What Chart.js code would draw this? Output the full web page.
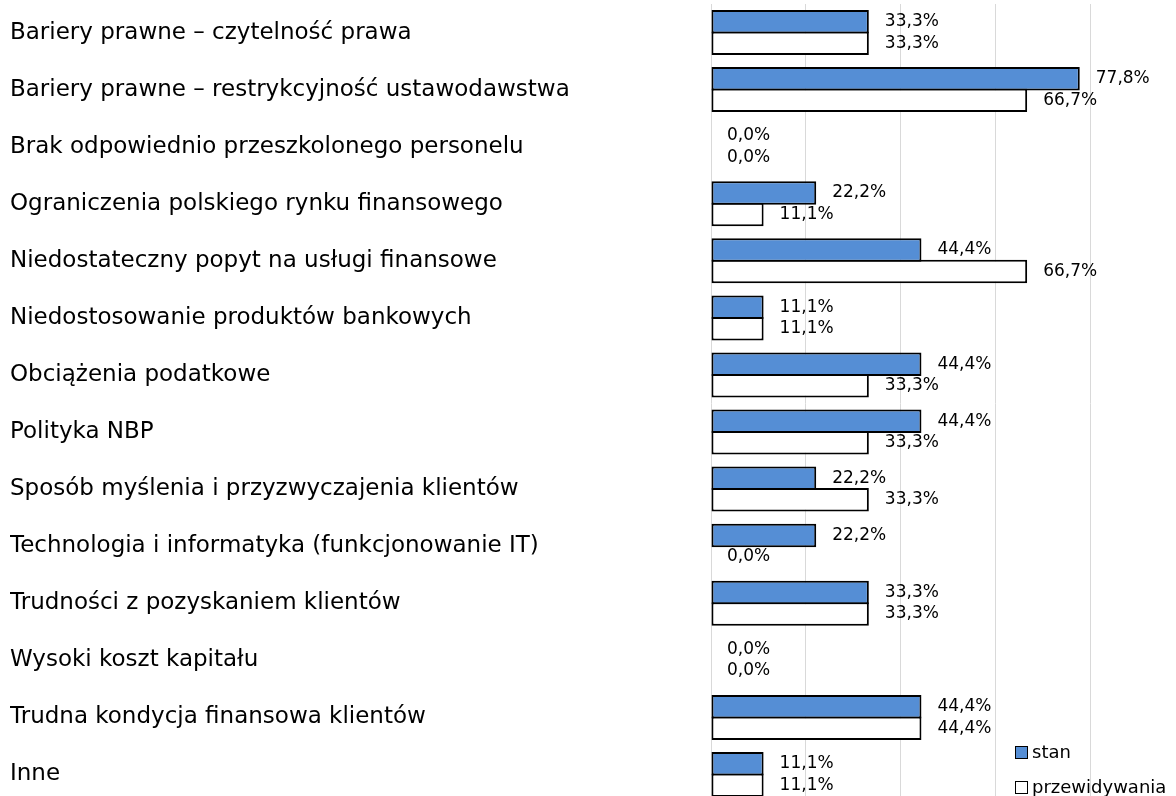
<!DOCTYPE html>
<html>
<head>
<meta charset="utf-8">
<script src="https://cdn.jsdelivr.net/npm/chart.js@4"></script>
<style>
  html, body { margin: 0; padding: 0; overflow: hidden; background: #fff; }
  #wrap { position: relative; width: 1185px; height: 803px; }
  #legend { position: absolute; left: 1015px; top: 738px; font: 18px "DejaVu Sans", sans-serif; color: #000; }
  #legend div { height: 35px; line-height: 28px; white-space: nowrap; }
  #legend span.box { display: inline-block; width: 11px; height: 11px; border: 1.5px solid #000; margin-right: 4px; vertical-align: -1px; }
</style>
</head>
<body>
<div id="wrap">
  <canvas id="chart"></canvas>
  <div id="legend"></div>
</div>
<script>
// Bariery - stan vs przewidywania (horizontal bars)

const CATEGORIES = [
  'Bariery prawne – czytelność prawa',
  'Bariery prawne – restrykcyjność ustawodawstwa',
  'Brak odpowiednio przeszkolonego personelu',
  'Ograniczenia polskiego rynku finansowego',
  'Niedostateczny popyt na usługi finansowe',
  'Niedostosowanie produktów bankowych',
  'Obciążenia podatkowe',
  'Polityka NBP',
  'Sposób myślenia i przyzwyczajenia klientów',
  'Technologia i informatyka (funkcjonowanie IT)',
  'Trudności z pozyskaniem klientów',
  'Wysoki koszt kapitału',
  'Trudna kondycja finansowa klientów',
  'Inne'
];
const STAN = [33.3, 77.8, 0, 22.2, 44.4, 11.1, 44.4, 44.4, 22.2, 22.2, 33.3, 0, 44.4, 11.1];
const PRZEWIDYWANIA = [33.3, 66.7, 0, 11.1, 66.7, 11.1, 33.3, 33.3, 33.3, 0, 33.3, 0, 44.4, 11.1];
const SERIES_NAMES = ['stan', 'przewidywania'];
const COLORS = ['#558ed5', '#ffffff'];

function formatPct(v) {
  return v.toFixed(1).replace('.', ',') + '%';
}

// value labels drawn right of each bar end
const valueLabels = {
  id: 'valueLabels',
  afterDatasetsDraw(chart) {
    const ctx = chart.ctx;
    ctx.save();
    ctx.font = '17px "DejaVu Sans", sans-serif';
    ctx.fillStyle = '#000';
    ctx.textAlign = 'left';
    ctx.textBaseline = 'middle';
    chart.data.datasets.forEach((ds, di) => {
      const meta = chart.getDatasetMeta(di);
      meta.data.forEach((bar, i) => {
        ctx.fillText(formatPct(ds.data[i]), bar.x + 16, bar.y);
      });
    });
    ctx.restore();
  }
};

const ctx = document.getElementById('chart').getContext('2d');
const chart = new Chart(ctx, {
  type: 'bar',
  data: {
    labels: CATEGORIES,
    datasets: [
      { label: SERIES_NAMES[0], data: STAN, backgroundColor: COLORS[0] },
      { label: SERIES_NAMES[1], data: PRZEWIDYWANIA, backgroundColor: COLORS[1] }
    ]
  },
  options: {
    indexAxis: 'y',
    responsive: true,
    maintainAspectRatio: false,
    animation: false,
    layout: { padding: { left: 10, top: 4, right: 0, bottom: 0 } },
    // bars overlap by ~2px so neighbouring borders merge into one line
    datasets: {
      bar: {
        categoryPercentage: 0.753, barPercentage: 1.093,
        borderColor: '#000', borderWidth: 2, borderSkipped: false
      }
    },
    plugins: {
      legend: { display: false },
      tooltip: { enabled: false }
    },
    scales: {
      x: {
        min: 0, max: 100,
        ticks: { display: false, stepSize: 20 },
        grid: { color: '#d9d9d9', lineWidth: 1, drawTicks: false },
        border: { display: false },
        afterFit: (scale) => { scale.height = 0; }
      },
      y: {
        grid: { display: false },
        border: { display: false },
        ticks: {
          crossAlign: 'far',
          color: '#000',
          font: { family: '"DejaVu Sans", sans-serif', size: 23 }
        },
        afterFit: (scale) => {
          scale.width = 701;
          scale.paddingTop = 0;
          scale.paddingBottom = 0;
        }
      }
    }
  },
  plugins: [valueLabels]
});

// legend in the lower right corner
const legendEl = document.getElementById('legend');
SERIES_NAMES.forEach((name, i) => {
  const row = document.createElement('div');
  const box = document.createElement('span');
  box.className = 'box';
  box.style.background = COLORS[i];
  row.appendChild(box);
  row.appendChild(document.createTextNode(name));
  legendEl.appendChild(row);
});
</script>
</body>
</html>
